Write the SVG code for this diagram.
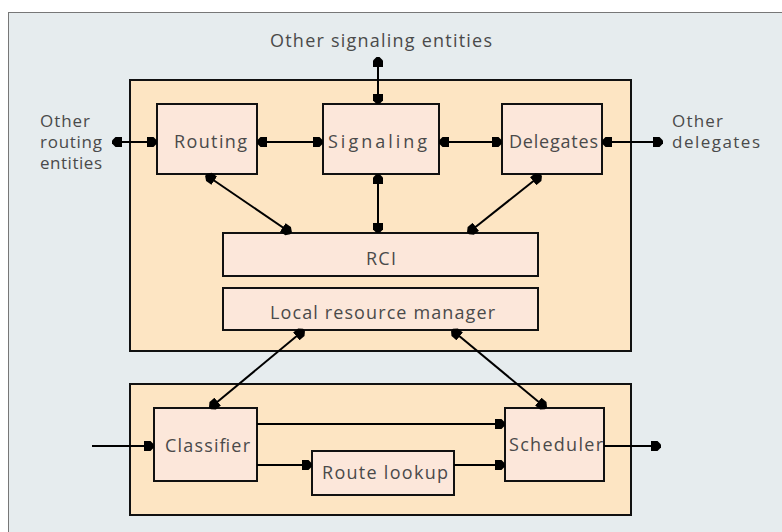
<svg xmlns="http://www.w3.org/2000/svg" width="782" height="532" viewBox="0 0 782 532">
<defs>
<marker id="ah" markerUnits="userSpaceOnUse" viewBox="0 -6 11 12" refX="10" refY="0" markerWidth="11" markerHeight="12" orient="auto-start-reverse">
<path d="M0,-5 L6.5,-5 L10,-1.5 L10,1.5 L6.5,5 L0,5 z" fill="#000"/>
</marker>
</defs>
<style>
.panel{fill:#fde5c3;stroke:#111;stroke-width:2}
.box{fill:#fce7da;stroke:#111;stroke-width:2}
.lbl{font-family:"Open Sans","Noto Sans","Liberation Sans",sans-serif;font-size:18px;fill:#4a4a4a}
.side{font-size:17px}
.ln{stroke:#000;stroke-width:2;fill:none}
.bi{marker-start:url(#ah);marker-end:url(#ah)}
.un{marker-end:url(#ah)}
</style>
<rect x="0" y="0" width="782" height="532" fill="#ffffff"/>
<rect x="8.5" y="12.5" width="790" height="530" fill="#e6ecee" stroke="#777" stroke-width="1"/>
<text class="lbl" x="270" y="47" textLength="222" lengthAdjust="spacing">Other signaling entities</text>
<g id="routing-entities-label">
<text class="lbl side" x="40" y="127" textLength="50" lengthAdjust="spacing">Other</text>
<text class="lbl side" x="40" y="148" textLength="62" lengthAdjust="spacing">routing</text>
<text class="lbl side" x="40" y="169" textLength="62" lengthAdjust="spacing">entities</text>
</g>
<g id="delegates-label">
<text class="lbl side" x="672" y="127" textLength="51" lengthAdjust="spacing">Other</text>
<text class="lbl side" x="672" y="148" textLength="88" lengthAdjust="spacing">delegates</text>
</g>
<g id="upper-panel"><rect class="panel" x="130" y="80" width="501" height="271"/></g>
<g id="lower-panel"><rect class="panel" x="130" y="384" width="501" height="131"/></g>
<g id="routing"><rect class="box" x="157" y="104" width="100" height="70"/><text class="lbl" x="174" y="148" textLength="73" lengthAdjust="spacing">Routing</text></g>
<g id="signaling"><rect class="box" x="323" y="104" width="116" height="70"/><text class="lbl" x="328" y="148" textLength="99" lengthAdjust="spacing">Signaling</text></g>
<g id="delegates"><rect class="box" x="502" y="104" width="100" height="70"/><text class="lbl" x="509" y="148" textLength="89" lengthAdjust="spacing">Delegates</text></g>
<g id="rci"><rect class="box" x="223" y="233" width="315" height="43"/><text class="lbl" x="366" y="265" textLength="30" lengthAdjust="spacing">RCI</text></g>
<g id="lrm"><rect class="box" x="223" y="288" width="315" height="42"/><text class="lbl" x="270" y="319" textLength="225" lengthAdjust="spacing">Local resource manager</text></g>
<g id="classifier"><rect class="box" x="154" y="408" width="103" height="73"/><text class="lbl" x="165" y="452" textLength="85" lengthAdjust="spacing">Classifier</text></g>
<g id="route-lookup"><rect class="box" x="312" y="451" width="142" height="44"/><text class="lbl" x="322" y="479" textLength="126" lengthAdjust="spacing">Route lookup</text></g>
<g id="scheduler"><rect class="box" x="505" y="408" width="99" height="73"/><text class="lbl" x="509" y="451" textLength="94" lengthAdjust="spacing">Scheduler</text></g>
<g id="connectors">
<line class="ln bi" x1="378" y1="57" x2="378" y2="104"/>
<line class="ln bi" x1="112" y1="142" x2="157" y2="142"/>
<line class="ln bi" x1="257" y1="142" x2="323" y2="142"/>
<line class="ln bi" x1="439" y1="142" x2="502" y2="142"/>
<line class="ln bi" x1="602" y1="142" x2="663" y2="142"/>
<line class="ln bi" x1="206" y1="175" x2="291" y2="233"/>
<line class="ln bi" x1="378" y1="174" x2="378" y2="233"/>
<line class="ln bi" x1="541" y1="175" x2="468" y2="233"/>
<line class="ln bi" x1="304" y1="330" x2="210" y2="408"/>
<line class="ln bi" x1="452" y1="330" x2="546" y2="408"/>
<line class="ln un" x1="92" y1="446" x2="154" y2="446"/>
<line class="ln un" x1="257" y1="424" x2="505" y2="424"/>
<line class="ln un" x1="257" y1="465" x2="312" y2="465"/>
<line class="ln un" x1="454" y1="465" x2="505" y2="465"/>
<line class="ln un" x1="604" y1="446" x2="661" y2="446"/>
</g>
</svg>
